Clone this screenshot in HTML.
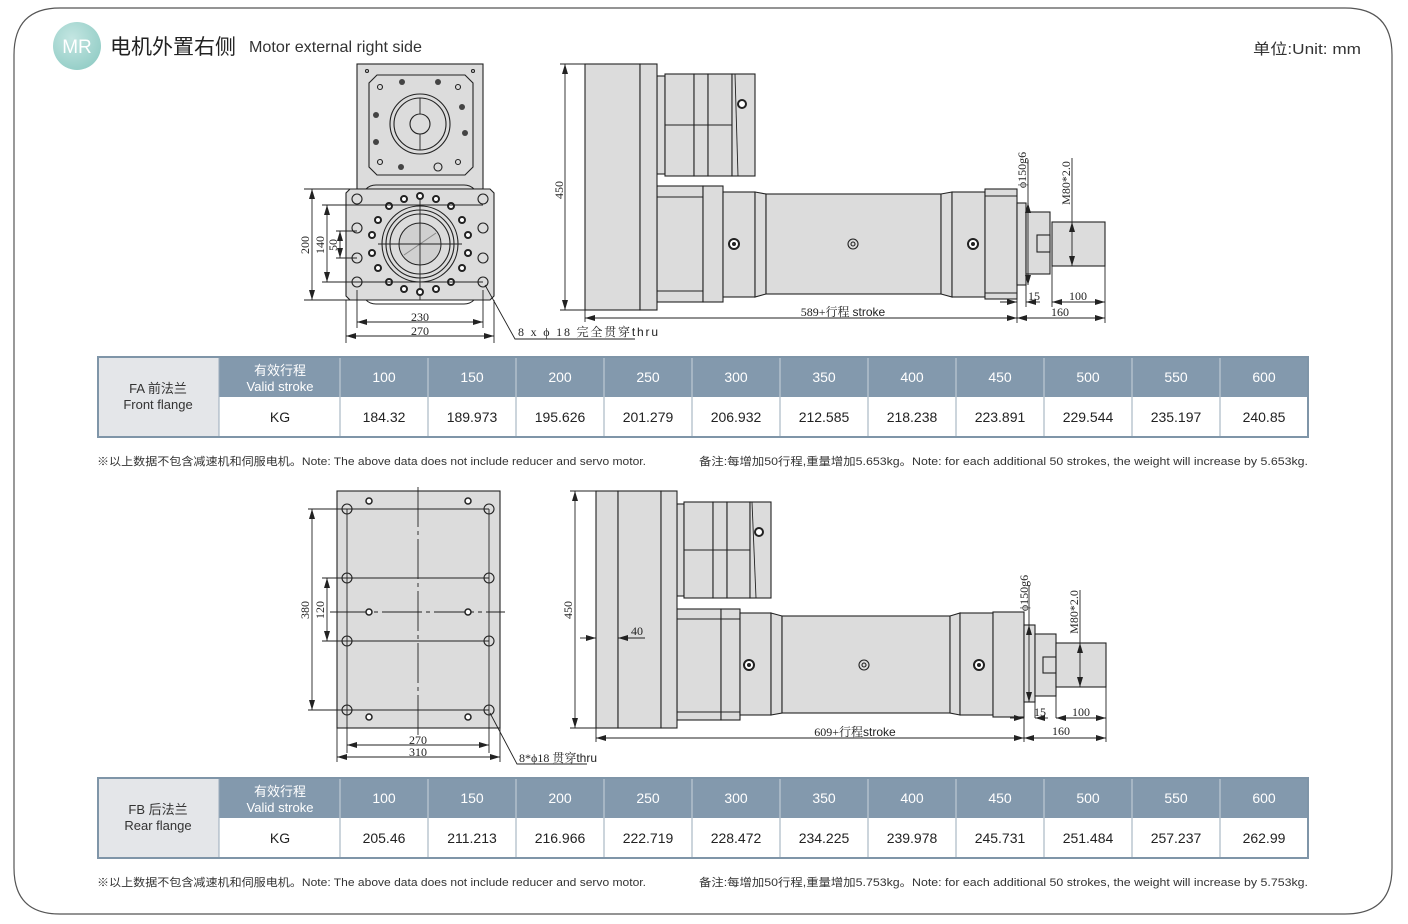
<!DOCTYPE html>
<html><head><meta charset="utf-8"><style>
html,body{margin:0;padding:0;background:#fff;}
svg{display:block;}
.s{font-family:"Liberation Sans","Noto Sans CJK SC",sans-serif;}
.d{font-family:"Liberation Serif","Noto Serif CJK SC",serif;font-size:12px;fill:#222;}
.p{fill:#dcdcdc;stroke:#222;stroke-width:1.1;}
.l{stroke:#222;stroke-width:0.9;fill:none;}
.h{fill:none;stroke:#222;stroke-width:1.1;}
</style></head><body>
<svg width="1408" height="924" viewBox="0 0 1408 924" xmlns="http://www.w3.org/2000/svg">
<defs>
<marker id="a" viewBox="0 0 10 6" refX="10" refY="3" markerWidth="10" markerHeight="6" orient="auto-start-reverse" markerUnits="userSpaceOnUse"><path d="M0,0 L10,3 L0,6z" fill="#222"/></marker>
<radialGradient id="g" cx="40%" cy="35%" r="70%"><stop offset="0" stop-color="#c4e6e2"/><stop offset="1" stop-color="#93cdc6"/></radialGradient>
</defs>
<path d="M60,8 H1345 Q1392,8 1392,55 V868 Q1392,914 1345,914 H60 Q14,914 14,868 V55 Q14,8 60,8z" fill="none" stroke="#555" stroke-width="1.2"/>
<circle cx="77" cy="46" r="24" fill="url(#g)"/>
<text x="77" y="53" text-anchor="middle" class="s" font-size="19" fill="#fff">MR</text>
<text x="110" y="54" class="s" font-size="21" fill="#222">电机外置右侧</text>
<text x="249" y="52" class="s" font-size="16" fill="#333" textLength="173" lengthAdjust="spacingAndGlyphs">Motor external right side</text>
<text x="1253" y="54" class="s" font-size="15" fill="#333" textLength="108" lengthAdjust="spacingAndGlyphs">单位:Unit: mm</text>

<!-- ===== TOP front view ===== -->
<rect x="357" y="64" width="126" height="125" class="p"/>
<path d="M377,75 H465 L473,83 V167 L465,175 H377 L369,167 V83z" class="p"/>
<circle cx="420" cy="124" r="30" class="h"/><circle cx="420" cy="124" r="26" class="h"/>
<circle cx="420" cy="124" r="10" class="h"/>
<line x1="420" y1="98" x2="420" y2="114" class="l"/><line x1="420" y1="134" x2="420" y2="150" class="l"/>
<g fill="#444"><circle cx="402" cy="82" r="3"/><circle cx="438" cy="82" r="3"/><circle cx="462" cy="107" r="3"/><circle cx="465" cy="133" r="3"/><circle cx="376" cy="115" r="3"/><circle cx="376" cy="142" r="3"/><circle cx="401" cy="167" r="3"/></g>
<g class="h"><circle cx="380" cy="87" r="2.5"/><circle cx="458" cy="87" r="2.5"/><circle cx="380" cy="162" r="2.5"/><circle cx="458" cy="162" r="2.5"/><circle cx="438" cy="167" r="4"/><circle cx="367" cy="71" r="1.5"/><circle cx="473" cy="71" r="1.5"/></g>
<path d="M350,189 H490 L494,193 V296 L490,300 H350 L346,296 V193z" class="p"/>
<path d="M366,300 Q370,304 376,304 H464 Q470,304 474,300" class="l"/>
<path d="M366,189 Q370,185 376,185 H464 Q470,185 474,189" class="l"/>
<circle cx="420" cy="244" r="38" class="h"/><circle cx="420" cy="244" r="34" class="h"/><circle cx="420" cy="244" r="30" class="h"/>
<circle cx="420" cy="244" r="21" fill="#d0d0d0" stroke="#222"/>
<line x1="404" y1="255" x2="436" y2="233" stroke="#888"/>
<line x1="420" y1="192" x2="420" y2="300" class="l"/><line x1="378" y1="244" x2="462" y2="244" class="l"/>
<g class="h">
<circle cx="357" cy="199" r="5"/><circle cx="357" cy="228" r="5"/><circle cx="357" cy="258" r="5"/><circle cx="357" cy="282" r="5"/>
<circle cx="483" cy="199" r="5"/><circle cx="483" cy="228" r="5"/><circle cx="483" cy="258" r="5"/><circle cx="483" cy="282" r="5"/>
</g>
<g fill="#fff" stroke="#222" stroke-width="2">
<circle cx="420" cy="196" r="3"/><circle cx="404" cy="199" r="3"/><circle cx="436" cy="199" r="3"/><circle cx="389" cy="206" r="3"/><circle cx="451" cy="206" r="3"/>
<circle cx="378" cy="220" r="3"/><circle cx="462" cy="220" r="3"/><circle cx="372" cy="235" r="3"/><circle cx="468" cy="235" r="3"/><circle cx="372" cy="253" r="3"/><circle cx="468" cy="253" r="3"/>
<circle cx="378" cy="268" r="3"/><circle cx="462" cy="268" r="3"/><circle cx="389" cy="282" r="3"/><circle cx="451" cy="282" r="3"/><circle cx="404" cy="289" r="3"/><circle cx="436" cy="289" r="3"/><circle cx="420" cy="292" r="3"/>
</g>
<g class="l">
<line x1="304" y1="189" x2="350" y2="189"/><line x1="304" y1="300" x2="350" y2="300"/>
<line x1="322" y1="205" x2="483" y2="205"/><line x1="322" y1="282" x2="483" y2="282"/>
<line x1="336" y1="231" x2="357" y2="231"/><line x1="336" y1="258" x2="357" y2="258"/>
<line x1="357" y1="290" x2="357" y2="328"/><line x1="483" y1="290" x2="483" y2="328"/>
<line x1="346" y1="300" x2="346" y2="343"/><line x1="494" y1="300" x2="494" y2="343"/>
</g>
<line x1="312" y1="189" x2="312" y2="300" class="l" marker-start="url(#a)" marker-end="url(#a)"/>
<line x1="327" y1="205" x2="327" y2="282" class="l" marker-start="url(#a)" marker-end="url(#a)"/>
<line x1="340" y1="231" x2="340" y2="258" class="l" marker-start="url(#a)" marker-end="url(#a)"/>
<line x1="357" y1="322" x2="483" y2="322" class="l" marker-start="url(#a)" marker-end="url(#a)"/>
<line x1="346" y1="336" x2="494" y2="336" class="l" marker-start="url(#a)" marker-end="url(#a)"/>
<text class="d" transform="translate(309,245) rotate(-90)" text-anchor="middle">200</text>
<text class="d" transform="translate(324,245) rotate(-90)" text-anchor="middle">140</text>
<text class="d" transform="translate(337,245) rotate(-90)" text-anchor="middle">50</text>
<text class="d" x="420" y="321" text-anchor="middle">230</text>
<text class="d" x="420" y="335" text-anchor="middle">270</text>
<polyline points="485,285 515,339 635,339" class="l"/>
<text class="d" x="518" y="336" textLength="140" lengthAdjust="spacing">8 x  ϕ  18  完全贯穿<tspan class="s" font-size="12">thru</tspan></text>

<!-- ===== TOP side view ===== -->
<rect x="657" y="186" width="46" height="116" class="p"/><rect x="703" y="186" width="20" height="116" class="p"/>
<line x1="657" y1="197" x2="703" y2="197" class="l"/><line x1="657" y1="291" x2="703" y2="291" class="l"/>
<rect x="723" y="192" width="32" height="105" class="p"/>
<path d="M755,192 L766,194 V294 L755,297z" class="p"/>
<rect x="766" y="194" width="175" height="100" class="p"/>
<path d="M941,194 L952,192 V297 L941,294z" class="p"/>
<rect x="952" y="192" width="33" height="105" class="p"/>
<rect x="985" y="189" width="32" height="110" class="p"/>
<line x1="985" y1="196" x2="1017" y2="196" class="l"/><line x1="985" y1="293" x2="1017" y2="293" class="l"/>
<rect x="1017" y="203" width="9" height="82" class="p"/>
<rect x="1026" y="212" width="24" height="62" class="p"/>
<rect x="1037" y="235" width="13" height="17" class="p"/>
<rect x="1052" y="222" width="53" height="44" class="p"/>
<rect x="657" y="76" width="8" height="98" class="p"/>
<rect x="665" y="74" width="29" height="102" class="p"/><rect x="694" y="74" width="14" height="102" class="p"/><rect x="708" y="74" width="24" height="102" class="p"/>
<rect x="732" y="74" width="23" height="102" class="p"/>
<line x1="665" y1="125" x2="732" y2="125" class="l"/><line x1="735" y1="74" x2="738" y2="176" class="l"/>
<rect x="585" y="64" width="55" height="246" class="p"/><rect x="640" y="64" width="17" height="246" class="p"/>
<g fill="#fff" stroke="#222" stroke-width="2"><circle cx="742" cy="104" r="4"/><circle cx="734" cy="244" r="5"/><circle cx="973" cy="244" r="5"/></g>
<circle cx="853" cy="244" r="5" class="h"/><circle cx="853" cy="244" r="2" class="h"/>
<circle cx="734" cy="244" r="2" fill="#222"/><circle cx="973" cy="244" r="2" fill="#222"/>
<g class="l">
<line x1="560" y1="64" x2="585" y2="64"/><line x1="560" y1="310" x2="585" y2="310"/>
<line x1="585" y1="310" x2="585" y2="322"/><line x1="1017" y1="299" x2="1017" y2="323"/><line x1="1105" y1="266" x2="1105" y2="323"/>
<line x1="1052" y1="266" x2="1052" y2="307"/><line x1="1026" y1="285" x2="1026" y2="307"/>
<line x1="1028" y1="160" x2="1028" y2="205"/><line x1="1072" y1="158" x2="1072" y2="222"/>
</g>
<line x1="565" y1="64" x2="565" y2="310" class="l" marker-start="url(#a)" marker-end="url(#a)"/>
<line x1="585" y1="318" x2="1017" y2="318" class="l" marker-start="url(#a)" marker-end="url(#a)"/>
<line x1="1017" y1="318" x2="1105" y2="318" class="l" marker-start="url(#a)" marker-end="url(#a)"/>
<line x1="1052" y1="302" x2="1105" y2="302" class="l" marker-start="url(#a)" marker-end="url(#a)"/>
<line x1="1000" y1="302" x2="1017" y2="302" class="l" marker-end="url(#a)"/>
<line x1="1040" y1="302" x2="1026" y2="302" class="l" marker-end="url(#a)"/>
<line x1="1028" y1="203" x2="1028" y2="285" class="l" marker-start="url(#a)" marker-end="url(#a)"/>
<line x1="1072" y1="222" x2="1072" y2="266" class="l" marker-start="url(#a)" marker-end="url(#a)"/>
<text class="d" transform="translate(563,190) rotate(-90)" text-anchor="middle">450</text>
<text class="d" x="843" y="316" text-anchor="middle">589+行程 <tspan class="s" font-size="12">stroke</tspan></text>
<text class="d" x="1060" y="316" text-anchor="middle">160</text>
<text class="d" x="1078" y="300" text-anchor="middle">100</text>
<text class="d" x="1034" y="300" text-anchor="middle">15</text>
<text class="d" transform="translate(1026,170) rotate(-90)" text-anchor="middle">ϕ150g6</text>
<text class="d" transform="translate(1070,183) rotate(-90)" text-anchor="middle">M80*2.0</text>

<!-- ===== TABLE 1 ===== -->
<g class="s">
<rect x="98" y="357" width="1210" height="80" fill="#fff" stroke="#7f95a8" stroke-width="2"/>
<rect x="98" y="357" width="121" height="80" fill="#e4e6e9"/>
<rect x="219" y="357" width="1089" height="40" fill="#8399ad"/>
<g stroke="#c9d3dc" stroke-width="1"><line x1="340" y1="357" x2="340" y2="397"/><line x1="428" y1="357" x2="428" y2="397"/><line x1="516" y1="357" x2="516" y2="397"/><line x1="604" y1="357" x2="604" y2="397"/><line x1="692" y1="357" x2="692" y2="397"/><line x1="780" y1="357" x2="780" y2="397"/><line x1="868" y1="357" x2="868" y2="397"/><line x1="956" y1="357" x2="956" y2="397"/><line x1="1044" y1="357" x2="1044" y2="397"/><line x1="1132" y1="357" x2="1132" y2="397"/><line x1="1220" y1="357" x2="1220" y2="397"/></g>
<g stroke="#9aabba" stroke-width="1"><line x1="219" y1="357" x2="219" y2="437"/><line x1="340" y1="397" x2="340" y2="437"/><line x1="428" y1="397" x2="428" y2="437"/><line x1="516" y1="397" x2="516" y2="437"/><line x1="604" y1="397" x2="604" y2="437"/><line x1="692" y1="397" x2="692" y2="437"/><line x1="780" y1="397" x2="780" y2="437"/><line x1="868" y1="397" x2="868" y2="437"/><line x1="956" y1="397" x2="956" y2="437"/><line x1="1044" y1="397" x2="1044" y2="437"/><line x1="1132" y1="397" x2="1132" y2="437"/><line x1="1220" y1="397" x2="1220" y2="437"/></g>
<rect x="98" y="357" width="1210" height="80" fill="none" stroke="#7f95a8" stroke-width="2"/>
<text x="158" y="393" text-anchor="middle" font-size="13" fill="#333">FA  前法兰</text>
<text x="158" y="409" text-anchor="middle" font-size="13" fill="#333">Front flange</text>
<g fill="#fff" font-size="13" text-anchor="middle"><text x="280" y="375">有效行程</text><text x="280" y="391">Valid stroke</text>
<g font-size="14"><text x="384" y="382">100</text><text x="472" y="382">150</text><text x="560" y="382">200</text><text x="648" y="382">250</text><text x="736" y="382">300</text><text x="824" y="382">350</text><text x="912" y="382">400</text><text x="1000" y="382">450</text><text x="1088" y="382">500</text><text x="1176" y="382">550</text><text x="1264" y="382">600</text></g></g>
<g fill="#222" font-size="14" text-anchor="middle"><text x="280" y="422">KG</text><text x="384" y="422">184.32</text><text x="472" y="422">189.973</text><text x="560" y="422">195.626</text><text x="648" y="422">201.279</text><text x="736" y="422">206.932</text><text x="824" y="422">212.585</text><text x="912" y="422">218.238</text><text x="1000" y="422">223.891</text><text x="1088" y="422">229.544</text><text x="1176" y="422">235.197</text><text x="1264" y="422">240.85</text></g>
<text x="97" y="465" font-size="11" fill="#333" textLength="549" lengthAdjust="spacingAndGlyphs">※以上数据不包含减速机和伺服电机。Note: The above data does not include reducer and servo motor.</text>
<text x="699" y="465" font-size="11" fill="#333" textLength="609" lengthAdjust="spacingAndGlyphs">备注:每增加50行程,重量增加5.653kg。Note: for each additional 50 strokes, the weight will increase by 5.653kg.</text>
</g>

<!-- ===== BOTTOM rear flange view ===== -->
<rect x="337" y="491" width="163" height="237" class="p"/>
<line x1="418" y1="487" x2="418" y2="735" stroke="#222" stroke-width="0.9" stroke-dasharray="40,4,4,4"/>
<line x1="330" y1="612" x2="505" y2="612" stroke="#222" stroke-width="0.9" stroke-dasharray="40,4,4,4"/>
<g class="l"><line x1="308" y1="509" x2="489" y2="509"/><line x1="308" y1="710" x2="489" y2="710"/><line x1="322" y1="578" x2="489" y2="578"/><line x1="322" y1="641" x2="489" y2="641"/>
<line x1="347" y1="509" x2="347" y2="753"/><line x1="489" y1="509" x2="489" y2="753"/></g>
<g class="h" fill="#dcdcdc"><circle cx="347" cy="509" r="5"/><circle cx="347" cy="578" r="5"/><circle cx="347" cy="641" r="5"/><circle cx="347" cy="710" r="5"/><circle cx="489" cy="509" r="5"/><circle cx="489" cy="578" r="5"/><circle cx="489" cy="641" r="5"/><circle cx="489" cy="710" r="5"/></g>
<g fill="#fff" stroke="#222" stroke-width="1.5"><circle cx="369" cy="501" r="3"/><circle cx="468" cy="501" r="3"/><circle cx="369" cy="612" r="3"/><circle cx="468" cy="612" r="3"/><circle cx="369" cy="717" r="3"/><circle cx="468" cy="717" r="3"/></g>
<g class="l"><line x1="337" y1="728" x2="337" y2="762"/><line x1="500" y1="728" x2="500" y2="762"/></g>
<line x1="312" y1="509" x2="312" y2="710" class="l" marker-start="url(#a)" marker-end="url(#a)"/>
<line x1="327" y1="578" x2="327" y2="641" class="l" marker-start="url(#a)" marker-end="url(#a)"/>
<line x1="347" y1="745" x2="489" y2="745" class="l" marker-start="url(#a)" marker-end="url(#a)"/>
<line x1="337" y1="757" x2="500" y2="757" class="l" marker-start="url(#a)" marker-end="url(#a)"/>
<text class="d" transform="translate(309,610) rotate(-90)" text-anchor="middle">380</text>
<text class="d" transform="translate(324,610) rotate(-90)" text-anchor="middle">120</text>
<text class="d" x="418" y="744" text-anchor="middle">270</text>
<text class="d" x="418" y="756" text-anchor="middle">310</text>
<polyline points="490,713 517,764 587,764" class="l"/>
<text class="d" x="519" y="762">8*ϕ18  贯穿<tspan class="s" font-size="12">thru</tspan></text>

<!-- ===== BOTTOM side view ===== -->
<rect x="677" y="609" width="44" height="111" class="p"/><rect x="721" y="609" width="19" height="111" class="p"/>
<line x1="677" y1="619" x2="740" y2="619" class="l"/><line x1="677" y1="712" x2="740" y2="712" class="l"/>
<rect x="740" y="613" width="31" height="102" class="p"/>
<path d="M771,613 L782,616 V713 L771,715z" class="p"/>
<rect x="782" y="616" width="168" height="97" class="p"/>
<path d="M950,616 L960,613 V715 L950,713z" class="p"/>
<rect x="960" y="613" width="33" height="102" class="p"/>
<rect x="993" y="612" width="31" height="105" class="p"/>
<rect x="1024" y="625" width="11" height="77" class="p"/>
<rect x="1035" y="634" width="21" height="62" class="p"/>
<rect x="1043" y="657" width="13" height="16" class="p"/>
<rect x="1056" y="643" width="50" height="44" class="p"/>
<rect x="677" y="504" width="7" height="92" class="p"/>
<rect x="684" y="502" width="29" height="96" class="p"/><rect x="713" y="502" width="14" height="96" class="p"/><rect x="727" y="502" width="23" height="96" class="p"/><rect x="750" y="502" width="21" height="96" class="p"/>
<line x1="684" y1="550" x2="750" y2="550" class="l"/><line x1="752" y1="502" x2="756" y2="598" class="l"/>
<rect x="596" y="491" width="22" height="237" class="p"/><rect x="618" y="491" width="43" height="237" class="p"/><rect x="661" y="491" width="16" height="237" class="p"/>
<g fill="#fff" stroke="#222" stroke-width="2"><circle cx="759" cy="532" r="4"/><circle cx="749" cy="665" r="5"/><circle cx="979" cy="665" r="5"/></g>
<circle cx="749" cy="665" r="2" fill="#222"/><circle cx="979" cy="665" r="2" fill="#222"/>
<circle cx="864" cy="665" r="5" class="h"/><circle cx="864" cy="665" r="2" class="h"/>
<g class="l">
<line x1="570" y1="491" x2="596" y2="491"/><line x1="570" y1="728" x2="596" y2="728"/>
<line x1="596" y1="728" x2="596" y2="742"/><line x1="1024" y1="717" x2="1024" y2="742"/><line x1="1106" y1="687" x2="1106" y2="742"/>
<line x1="1056" y1="687" x2="1056" y2="718"/><line x1="1035" y1="702" x2="1035" y2="718"/>
<line x1="1029" y1="585" x2="1029" y2="625"/><line x1="1080" y1="590" x2="1080" y2="643"/>
<line x1="618" y1="638" x2="645" y2="638"/>
</g>
<line x1="575" y1="491" x2="575" y2="728" class="l" marker-start="url(#a)" marker-end="url(#a)"/>
<line x1="580" y1="638" x2="596" y2="638" class="l" marker-end="url(#a)"/>
<line x1="630" y1="638" x2="618" y2="638" class="l" marker-end="url(#a)"/>
<line x1="596" y1="738" x2="1024" y2="738" class="l" marker-start="url(#a)" marker-end="url(#a)"/>
<line x1="1024" y1="738" x2="1106" y2="738" class="l" marker-start="url(#a)" marker-end="url(#a)"/>
<line x1="1056" y1="718" x2="1106" y2="718" class="l" marker-start="url(#a)" marker-end="url(#a)"/>
<line x1="1010" y1="718" x2="1024" y2="718" class="l" marker-end="url(#a)"/>
<line x1="1048" y1="718" x2="1035" y2="718" class="l" marker-end="url(#a)"/>
<line x1="1029" y1="625" x2="1029" y2="702" class="l" marker-start="url(#a)" marker-end="url(#a)"/>
<line x1="1080" y1="643" x2="1080" y2="687" class="l" marker-start="url(#a)" marker-end="url(#a)"/>
<text class="d" transform="translate(572,610) rotate(-90)" text-anchor="middle">450</text>
<text class="d" x="637" y="635" text-anchor="middle">40</text>
<text class="d" x="855" y="736" text-anchor="middle">609+行程<tspan class="s" font-size="12">stroke</tspan></text>
<text class="d" x="1061" y="735" text-anchor="middle">160</text>
<text class="d" x="1081" y="716" text-anchor="middle">100</text>
<text class="d" x="1040" y="716" text-anchor="middle">15</text>
<text class="d" transform="translate(1028,593) rotate(-90)" text-anchor="middle">ϕ150g6</text>
<text class="d" transform="translate(1078,612) rotate(-90)" text-anchor="middle">M80*2.0</text>

<!-- ===== TABLE 2 ===== -->
<g class="s">
<rect x="98" y="778" width="1210" height="80" fill="#fff"/>
<rect x="98" y="778" width="121" height="80" fill="#e4e6e9"/>
<rect x="219" y="778" width="1089" height="40" fill="#8399ad"/>
<g stroke="#c9d3dc" stroke-width="1"><line x1="340" y1="778" x2="340" y2="818"/><line x1="428" y1="778" x2="428" y2="818"/><line x1="516" y1="778" x2="516" y2="818"/><line x1="604" y1="778" x2="604" y2="818"/><line x1="692" y1="778" x2="692" y2="818"/><line x1="780" y1="778" x2="780" y2="818"/><line x1="868" y1="778" x2="868" y2="818"/><line x1="956" y1="778" x2="956" y2="818"/><line x1="1044" y1="778" x2="1044" y2="818"/><line x1="1132" y1="778" x2="1132" y2="818"/><line x1="1220" y1="778" x2="1220" y2="818"/></g>
<g stroke="#9aabba" stroke-width="1"><line x1="219" y1="778" x2="219" y2="858"/><line x1="340" y1="818" x2="340" y2="858"/><line x1="428" y1="818" x2="428" y2="858"/><line x1="516" y1="818" x2="516" y2="858"/><line x1="604" y1="818" x2="604" y2="858"/><line x1="692" y1="818" x2="692" y2="858"/><line x1="780" y1="818" x2="780" y2="858"/><line x1="868" y1="818" x2="868" y2="858"/><line x1="956" y1="818" x2="956" y2="858"/><line x1="1044" y1="818" x2="1044" y2="858"/><line x1="1132" y1="818" x2="1132" y2="858"/><line x1="1220" y1="818" x2="1220" y2="858"/></g>
<rect x="98" y="778" width="1210" height="80" fill="none" stroke="#7f95a8" stroke-width="2"/>
<text x="158" y="814" text-anchor="middle" font-size="13" fill="#333">FB  后法兰</text>
<text x="158" y="830" text-anchor="middle" font-size="13" fill="#333">Rear flange</text>
<g fill="#fff" font-size="13" text-anchor="middle"><text x="280" y="796">有效行程</text><text x="280" y="812">Valid stroke</text>
<g font-size="14"><text x="384" y="803">100</text><text x="472" y="803">150</text><text x="560" y="803">200</text><text x="648" y="803">250</text><text x="736" y="803">300</text><text x="824" y="803">350</text><text x="912" y="803">400</text><text x="1000" y="803">450</text><text x="1088" y="803">500</text><text x="1176" y="803">550</text><text x="1264" y="803">600</text></g></g>
<g fill="#222" font-size="14" text-anchor="middle"><text x="280" y="843">KG</text><text x="384" y="843">205.46</text><text x="472" y="843">211.213</text><text x="560" y="843">216.966</text><text x="648" y="843">222.719</text><text x="736" y="843">228.472</text><text x="824" y="843">234.225</text><text x="912" y="843">239.978</text><text x="1000" y="843">245.731</text><text x="1088" y="843">251.484</text><text x="1176" y="843">257.237</text><text x="1264" y="843">262.99</text></g>
<text x="97" y="886" font-size="11" fill="#333" textLength="549" lengthAdjust="spacingAndGlyphs">※以上数据不包含减速机和伺服电机。Note: The above data does not include reducer and servo motor.</text>
<text x="699" y="886" font-size="11" fill="#333" textLength="609" lengthAdjust="spacingAndGlyphs">备注:每增加50行程,重量增加5.753kg。Note: for each additional 50 strokes, the weight will increase by 5.753kg.</text>
</g>
</svg>
</body></html>
